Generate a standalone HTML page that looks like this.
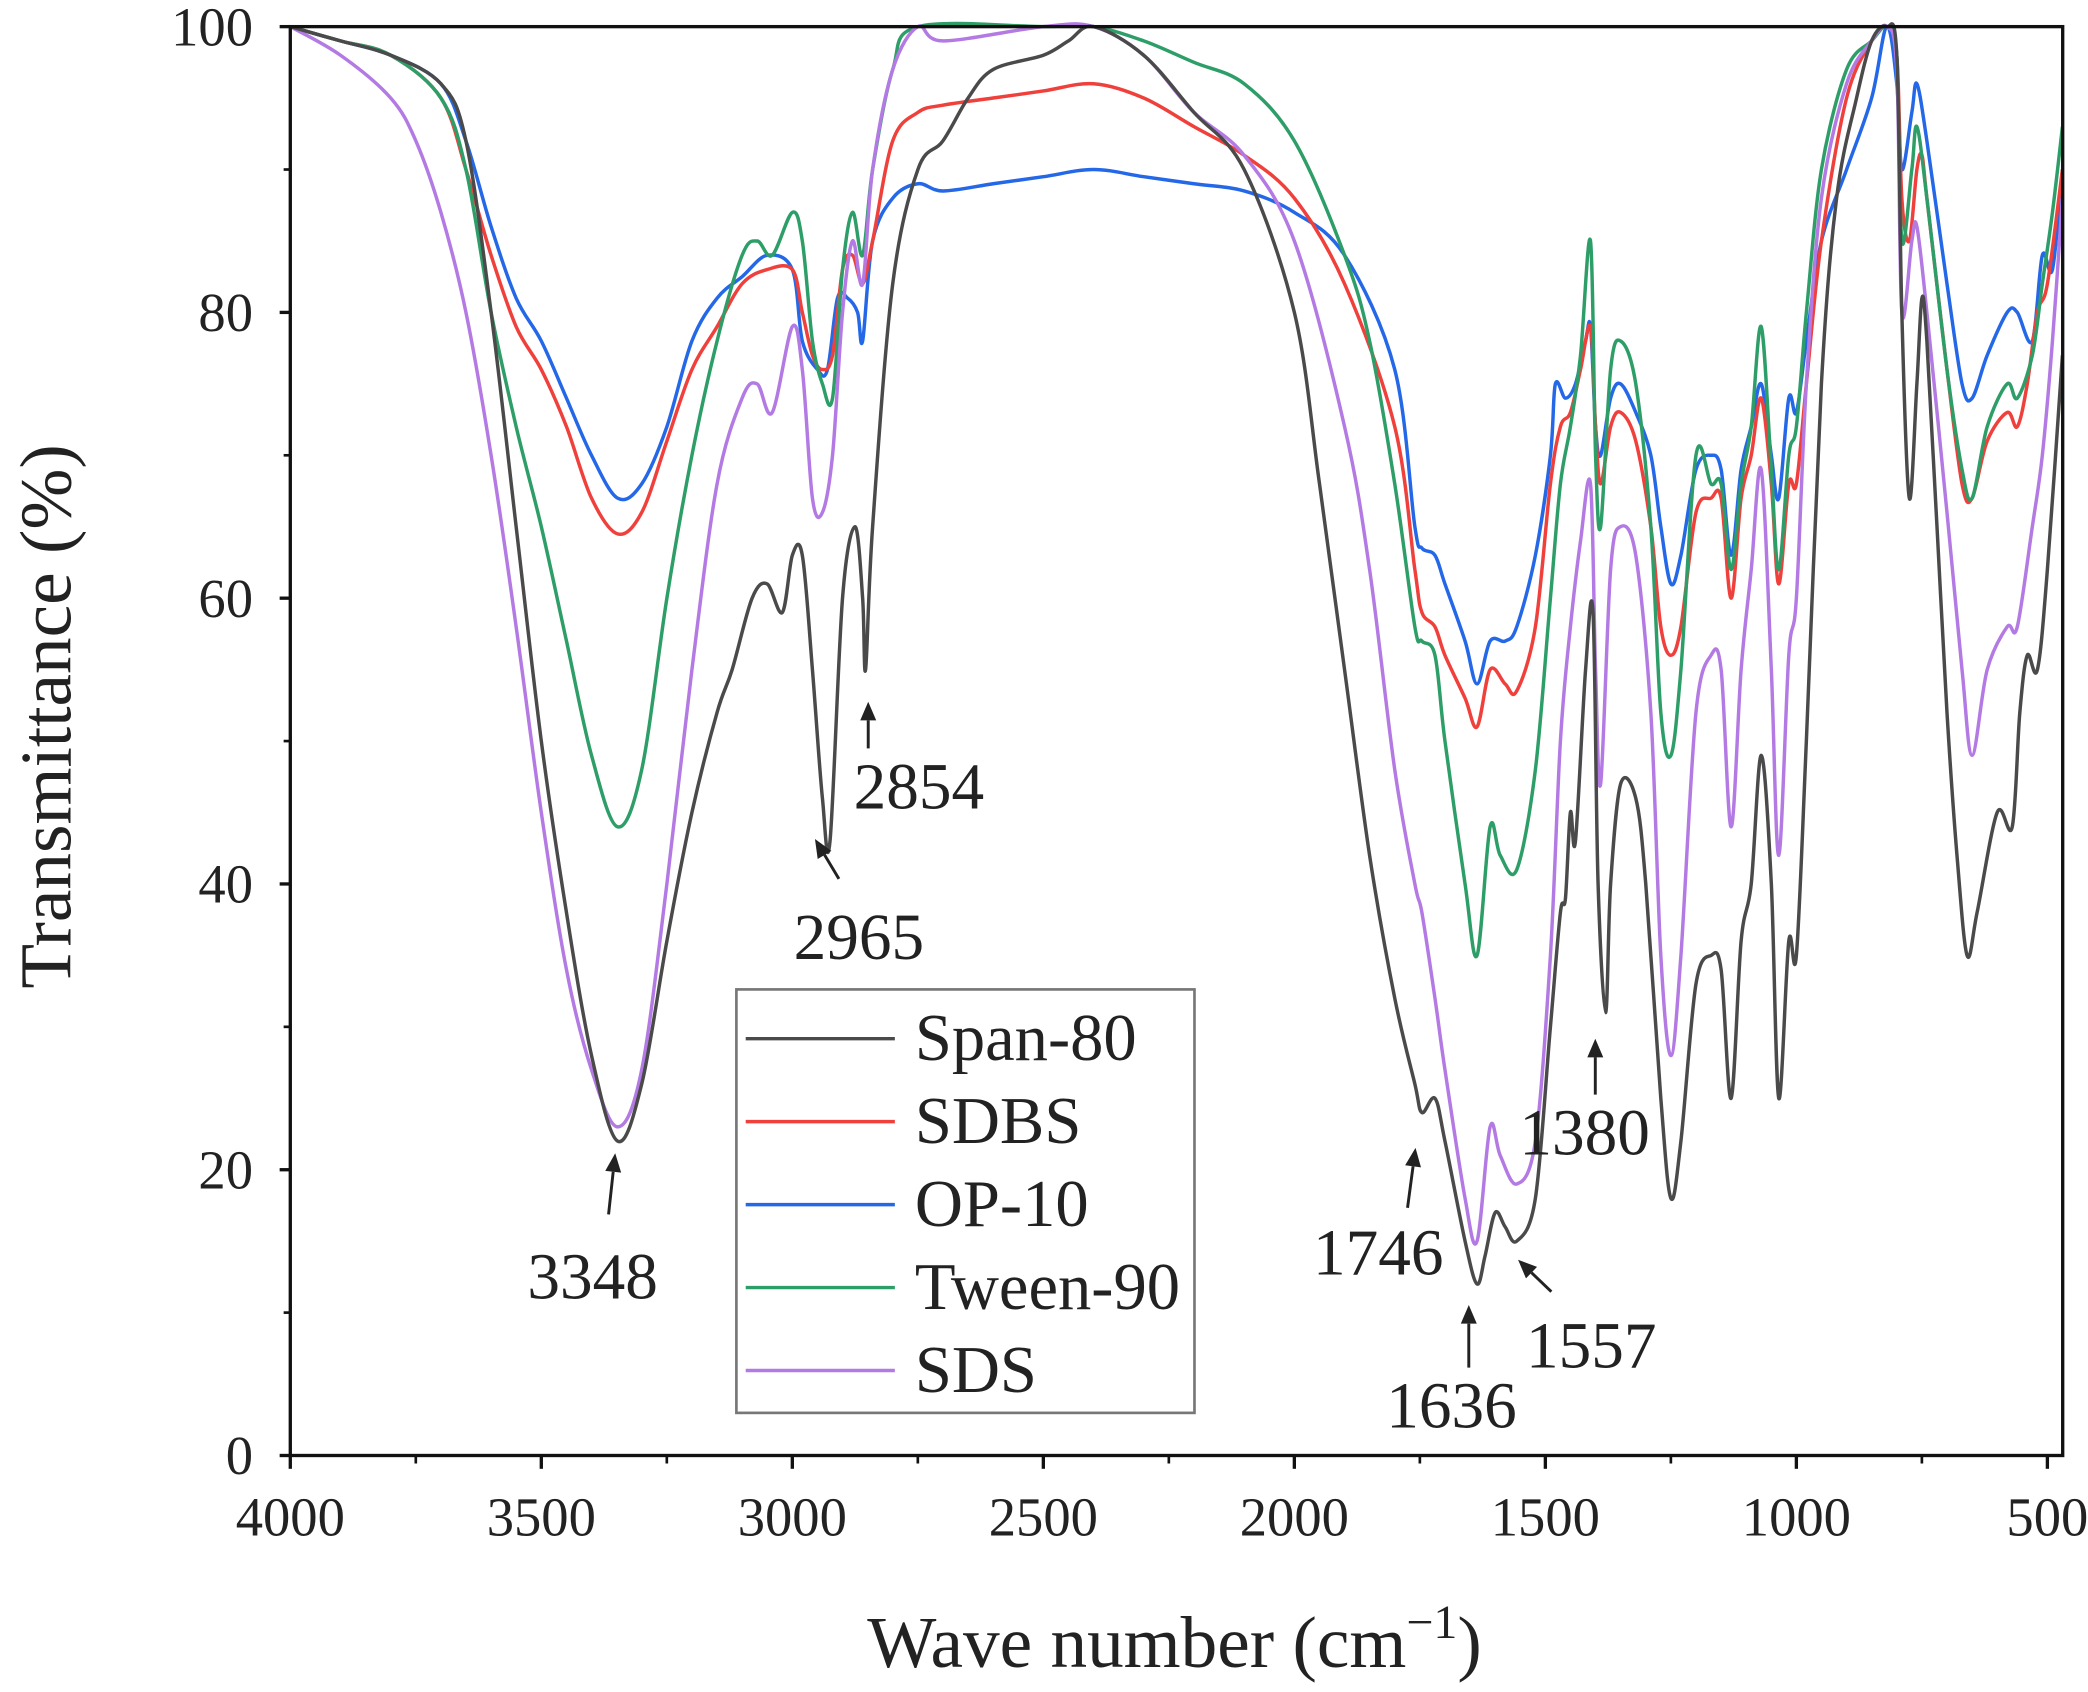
<!DOCTYPE html>
<html><head><meta charset="utf-8"><style>
html,body{margin:0;padding:0;background:#fff;}
svg{display:block;}
text{font-family:"Liberation Serif",serif;fill:#222;}
</style></head><body>
<svg id="chart" width="2088" height="1692" viewBox="0 0 1568 1270.6" preserveAspectRatio="none" xmlns="http://www.w3.org/2000/svg">
<g id="series"></g>
<g id="axes"></g>
<g id="legend"></g>
<g id="annot"></g>
</svg>
<script>
const seriesNames=["Span-80","SDBS","OP-10","Tween-90","SDS"];
const seriesColors=["#4a4a4a","#f0403c","#2468e8","#2e9e68","#b47ae4"];
const spanW=[4000,3900,3800,3700,3650,3600,3550,3500,3450,3400,3348,3300,3250,3200,3150,3120,3080,3050,3020,3000,2980,2960,2940,2925,2900,2875,2860,2854,2840,2800,2750,2700,2650,2600,2500,2450,2400,2300,2200,2100,2000,1950,1900,1850,1800,1760,1746,1720,1700,1660,1636,1620,1600,1580,1557,1520,1490,1470,1460,1450,1440,1420,1405,1395,1380,1370,1350,1320,1300,1270,1250,1230,1200,1170,1150,1130,1110,1090,1070,1050,1035,1015,1000,980,950,920,880,850,820,800,790,775,760,750,740,720,700,680,660,640,600,570,555,540,520,500,470];
const spanT=[100,99,98,96,92,80,65,50,38,28,22,26,36,45,52,55,60,61,59,63,63,55,46,43,60,65,60,55,65,82,90,92,95,97,98,99,100,98,94,90,80,68,55,42,32,26,24,25,22,15,12,14,17,16,15,18,30,38,39,45,43,55,59,40,31,40,47,46,40,25,18,22,33,35,34,25,36,40,49,40,25,36,35,50,75,88,95,99,100,98,80,67,75,81,78,65,52,42,35,38,45,44,52,56,55,62,77];
const sdbsW=[4000,3900,3800,3700,3650,3600,3550,3500,3450,3400,3348,3300,3250,3200,3150,3100,3050,3000,2980,2960,2940,2920,2900,2880,2860,2840,2800,2750,2700,2600,2500,2400,2300,2200,2100,2000,1900,1800,1760,1746,1720,1700,1660,1636,1610,1580,1557,1520,1490,1470,1450,1430,1410,1400,1390,1370,1350,1320,1290,1270,1250,1230,1200,1170,1150,1130,1110,1090,1070,1050,1035,1015,1000,980,950,900,850,820,800,790,775,760,750,740,700,670,650,620,580,560,540,520,500,470];
const sdbsT=[100,99,98,95,90,84,79,76,72,67,64.5,66,71,76,79,82,83,83,80,77,76,77,83,84,82,85,92,94,94.5,95,95.5,96,95,93,91,88,82,72,62,59,58,56,53,51,55,54,53.5,58,68,72,73,76,79,72,68,72,73,71,65,58,56,58,66,67,67,60,67,70,74,68,61,68,68,75,85,95,99,100,98,88,85,90,91,88,76,68,67,71,73,72,75,80,82,90];
const opW=[4000,3900,3800,3700,3650,3600,3550,3500,3450,3400,3348,3300,3250,3200,3150,3100,3050,3000,2980,2950,2930,2910,2890,2870,2860,2840,2800,2750,2700,2600,2500,2400,2300,2200,2100,2000,1900,1800,1760,1746,1720,1700,1660,1636,1610,1580,1557,1520,1490,1480,1460,1440,1420,1410,1400,1390,1370,1350,1320,1290,1270,1250,1230,1200,1170,1150,1130,1110,1090,1070,1050,1035,1015,1000,980,950,900,850,820,800,790,770,760,740,700,670,650,620,580,560,530,510,490,470];
const opT=[100,99,98,96,92,86,81,78,74,70,67,68,72,78,81,82.5,84,83,78,76,76,81,81,80,78,85,88,89,88.5,89,89.5,90,89.5,89,88.5,87,84,76,65,63.5,63,61,57,54,57,57,58,63,70,75,74,75,78,79,72,70,74,75,73,70,65,61,63,69,70,69,63,69,72,75,70,67,74,73,78,85,90,95,100,96,90,94,96,92,82,75,74,77,80,80,78,84,83,90];
const tweenW=[4000,3900,3800,3700,3650,3600,3550,3500,3450,3400,3348,3300,3250,3200,3150,3100,3070,3040,3000,2980,2960,2940,2920,2900,2880,2860,2840,2800,2750,2500,2400,2300,2200,2100,2000,1900,1850,1800,1760,1746,1720,1700,1660,1636,1610,1590,1557,1520,1490,1470,1450,1430,1410,1400,1390,1370,1350,1320,1290,1270,1250,1230,1200,1170,1150,1130,1110,1090,1070,1050,1035,1015,1000,980,950,900,850,820,800,790,770,760,740,700,670,650,620,580,560,530,510,490,470];
const tweenT=[100,99,98,95,90,80,72,65,57,49,44,48,60,70,78,84,85,84,87,85,78,75,74,83,87,84,90,97,100,100,100,99,97.5,96,92,84,78,68,58,57,56,50,40,35,44,42,41,48,60,68,72,77,85,70,65,76,78,75,65,52,49,55,70,68,68,62,68,72,79,69,62,70,72,80,90,97,99,100,98,85,90,93,88,76,69,67,72,75,74,77,82,87,93];
const sdsW=[4000,3900,3800,3750,3700,3650,3600,3550,3500,3450,3400,3348,3300,3250,3200,3150,3100,3070,3040,3000,2980,2960,2940,2920,2900,2880,2860,2840,2800,2750,2700,2500,2400,2300,2200,2100,2000,1900,1850,1800,1760,1746,1720,1700,1660,1636,1610,1590,1557,1520,1490,1470,1450,1430,1410,1400,1390,1370,1350,1320,1290,1270,1250,1230,1200,1170,1150,1130,1110,1090,1070,1050,1035,1015,1000,980,950,900,850,820,800,790,770,760,740,700,670,650,620,580,560,530,510,490,470];
const sdsT=[100,98,95,92,87,80,70,58,45,34,27,23,27,40,55,68,74,75,73,79,76,67,66,70,80,85,82,90,97,100,99,100,100,98,94,91,85,72,62,48,40,38,32,27,18,15,23,21,19,22,35,50,58,64,68,55,47,62,65,63,52,35,28,35,52,56,55,44,55,62,69,55,42,56,60,75,88,96,99,100,97,80,85,86,80,66,55,49,55,58,58,65,70,78,88];
const xTicks=[4000,3500,3000,2500,2000,1500,1000,500];
const yTicks=[0,20,40,60,80,100];
const annLabels=["3348","2965","2854","1746","1636","1557","1380"];

const L=218,R=1549,T=20,B=1093;
function xs(w){return L+(4000-w)*0.377;}
function ys(v){return B-v*(B-T)/100;}
const NS="http://www.w3.org/2000/svg";
function mk(tag,attrs,parent,txt){const e=document.createElementNS(NS,tag);for(const k in attrs)e.setAttribute(k,attrs[k]);if(txt!==undefined)e.textContent=txt;parent.appendChild(e);return e;}
const sg=document.getElementById('series'),ax=document.getElementById('axes'),lg=document.getElementById('legend'),an=document.getElementById('annot');
const Ws=[spanW,sdbsW,opW,tweenW,sdsW],Ts=[spanT,sdbsT,opT,tweenT,sdsT];
function smooth(pts){
  let d='M'+pts[0][0].toFixed(1)+' '+pts[0][1].toFixed(1);
  for(let i=0;i<pts.length-1;i++){
    const p0=pts[Math.max(0,i-1)],p1=pts[i],p2=pts[i+1],p3=pts[Math.min(pts.length-1,i+2)];
    const c1x=p1[0]+(p2[0]-p0[0])/6,c1y=p1[1]+(p2[1]-p0[1])/6;
    const c2x=p2[0]-(p3[0]-p1[0])/6,c2y=p2[1]-(p3[1]-p1[1])/6;
    d+=' C'+c1x.toFixed(1)+' '+c1y.toFixed(1)+' '+c2x.toFixed(1)+' '+c2y.toFixed(1)+' '+p2[0].toFixed(1)+' '+p2[1].toFixed(1);
  }
  return d;
}
const order=[2,1,3,4,0];
order.forEach(i=>{
  const pts=Ws[i].map((w,j)=>[xs(w),Math.max(T,ys(Ts[i][j]))]);
  const p=mk('path',{d:smooth(pts),fill:'none',stroke:seriesColors[i],'stroke-width':2.6,'stroke-linejoin':'round'},sg);
  
  
});
const fr=mk('rect',{x:L,y:T,width:R-L,height:B-T,fill:'none',stroke:'#111','stroke-width':2.5},ax);


xTicks.forEach(w=>{
  const x=xs(w);
  const t=mk('line',{x1:x,x2:x,y1:B,y2:B+10,stroke:'#111','stroke-width':2.5},ax);
  
  
  const m=mk('line',{x1:xs(w-250),x2:xs(w-250),y1:B,y2:B+6,stroke:'#111','stroke-width':2},ax);
  
  
  const lb=mk('text',{x:x,y:B+60,'font-size':41,'text-anchor':'middle'},ax,String(w));
  
  
});
yTicks.forEach(v=>{
  const y=ys(v);
  const t=mk('line',{x1:L-8,x2:L,y1:y,y2:y,stroke:'#111','stroke-width':2.5},ax);
  
  
  if(v<100){const m=mk('line',{x1:L-5,x2:L,y1:ys(v+10),y2:ys(v+10),stroke:'#111','stroke-width':2},ax);
  
  }
  const lb=mk('text',{x:L-28,y:y+14,'font-size':41,'text-anchor':'end'},ax,String(v));
  
  
});
const xt=mk('text',{x:882,y:1252,'font-size':55,'text-anchor':'middle'},ax);


xt.innerHTML='Wave number (cm<tspan font-size="36" dy="-22">−1</tspan><tspan dy="22">)</tspan>';
const yt=mk('text',{x:0,y:0,'font-size':55,'text-anchor':'middle',transform:'translate(53,538) rotate(-90)'},ax,'Transmittance (%)');


const lb=mk('rect',{x:553,y:743,width:344,height:318,fill:'#fff',stroke:'#777','stroke-width':2},lg);


seriesNames.forEach((n,i)=>{
  const y=780+i*62.3;
  const g=mk('g',{},lg);
  
  
  mk('line',{x1:560,x2:672,y1:y,y2:y,stroke:seriesColors[i],'stroke-width':2.6},g);
  mk('text',{x:687,y:y+16,'font-size':50},g,n);
});
const annPos=[[445,975,457,912,462,866],[645,720,630,660,612,630],[690,607,652,562,652,527],[1035,957,1057,907,1063,862],[1090,1072,1103,1027,1103,980],[1195,1027,1165,970,1140,946],[1190,867,1198,822,1198,780]];
annLabels.forEach((l,i)=>{
  const p=annPos[i];
  const g=mk('g',{},an);
  
  
  mk('text',{x:p[0],y:p[1],'font-size':49,'text-anchor':'middle',fill:'#333'},g,l);
  const dx=p[4]-p[2],dy=p[5]-p[3],len=Math.hypot(dx,dy),ux=dx/len,uy=dy/len;
  const bx=p[4]-ux*14,by=p[5]-uy*14;
  mk('line',{x1:p[2],y1:p[3],x2:bx,y2:by,stroke:'#222','stroke-width':2.2},g);
  mk('polygon',{points:`${p[4]},${p[5]} ${bx-uy*6},${by+ux*6} ${bx+uy*6},${by-ux*6}`,fill:'#222'},g);
});
</script>
</body></html>
